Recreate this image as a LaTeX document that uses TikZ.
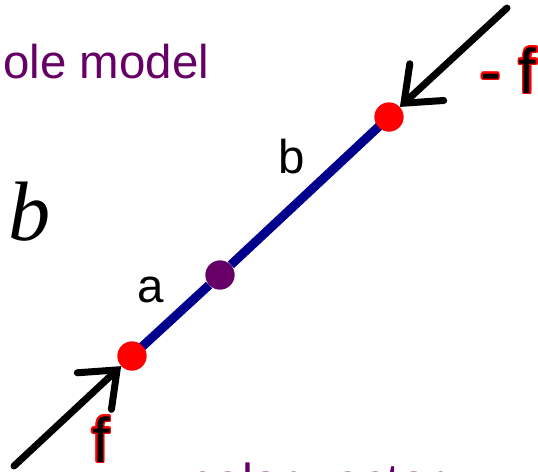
\documentclass[tikz,border=0pt]{standalone}
\usepackage{fontspec}
\setmainfont{Liberation Sans}
\newfontfamily\timesfont{Liberation Serif}
\usepackage{contour}
\usetikzlibrary{arrows.meta}
\contourlength{0.9pt}
\definecolor{rodblue}{RGB}{0,0,140}
\definecolor{dipurple}{RGB}{102,0,102}
\definecolor{forcered}{RGB}{255,0,0}

\begin{document}
\begin{tikzpicture}[x=0.02cm, y=-0.02cm,
    lbl/.style={anchor=base west, inner sep=0pt, font=\fontsize{27}{31}\selectfont},
    title/.style={lbl, text=dipurple},
    flbl/.style={lbl, text=black, font=\fontsize{36}{40}\selectfont},
    dot/.style={circle, inner sep=0pt, minimum size=0.58cm, fill=#1},
    rod/.style={line width=0.18cm, rodblue},
    force/.style={line width=0.14cm, line cap=round,
                  -{Straight Barb[length=0.62cm, width=1.0cm, line cap=round]}}
]
\useasboundingbox (0,0) rectangle (538,471);
\clip (0,0) rectangle (538,471);
% rod and points
\node[dot=forcered] (fA) at (132,356) {};
\node[dot=forcered] (fB) at (389,117) {};
\node[dot=dipurple] (mid) at (220,275) {};
\draw[rod] (fA.center) -- (mid) -- (fB.center);
\node[dot=forcered] at (fA) {};
\node[dot=forcered] at (fB) {};
\node[dot=dipurple] at (mid) {};
% forces
\coordinate (tailA) at (14,466);
\coordinate (tailB) at (507,8);
\draw[force] (tailA) -- (fA);
\draw[force] (tailB) -- (fB);
% labels
\node[title] (model) at (3,78) {ole model};
\node[title, font=\fontsize{28}{32}\selectfont] (polar) at (187,498) {polar vector};
\node[lbl, font=\fontsize{48}{52}\selectfont] (bsym) at (8,240) {\timesfont\itshape b};
\node[lbl] (alab) at (137,302) {a};
\node[lbl] (blab) at (278,173) {b};
\node[flbl] (fminus) at (480,93) {\contour{forcered}{- f}};
\node[flbl] (fplus) at (92,462) {\contour{forcered}{f}};
\end{tikzpicture}
\end{document}
